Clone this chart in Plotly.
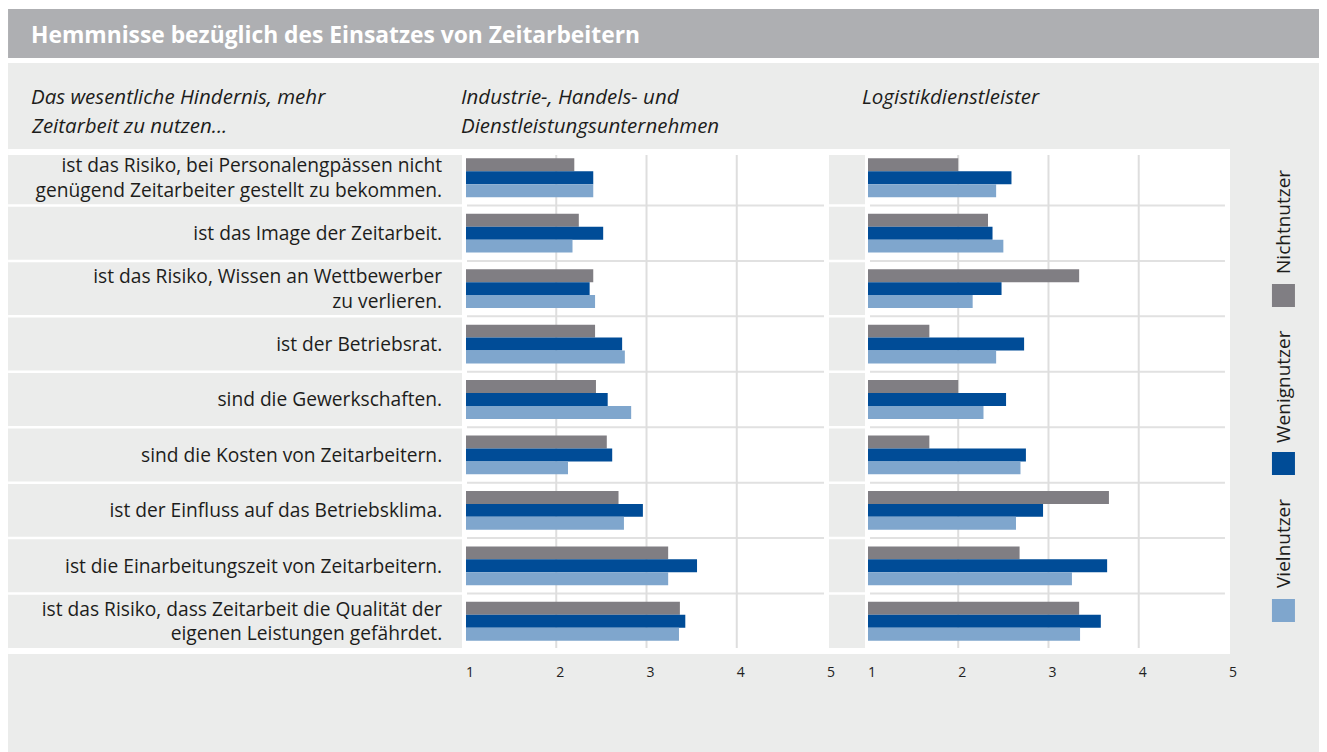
import plotly.graph_objects as go

categories = [
    "ist das Risiko, bei Personalengpässen nicht<br>genügend Zeitarbeiter gestellt zu bekommen.",
    "ist das Image der Zeitarbeit.",
    "ist das Risiko, Wissen an Wettbewerber<br>zu verlieren.",
    "ist der Betriebsrat.",
    "sind die Gewerkschaften.",
    "sind die Kosten von Zeitarbeitern.",
    "ist der Einfluss auf das Betriebsklima.",
    "ist die Einarbeitungszeit von Zeitarbeitern.",
    "ist das Risiko, dass Zeitarbeit die Qualität der<br>eigenen Leistungen gefährdet.",
]

series_names = ["Nichtnutzer", "Wenignutzer", "Vielnutzer"]

# Industrie-, Handels- und Dienstleistungsunternehmen
ind_nicht = [2.20, 2.25, 2.41, 2.43, 2.44, 2.56, 2.69, 3.24, 3.37]
ind_wenig = [2.41, 2.52, 2.37, 2.73, 2.57, 2.62, 2.96, 3.56, 3.43]
ind_viel = [2.41, 2.18, 2.43, 2.76, 2.83, 2.13, 2.75, 3.24, 3.36]

# Logistikdienstleister
log_nicht = [2.00, 2.33, 3.34, 1.68, 2.00, 1.68, 3.67, 2.68, 3.34]
log_wenig = [2.59, 2.38, 2.48, 2.73, 2.53, 2.75, 2.94, 3.65, 3.58]
log_viel = [2.42, 2.50, 2.16, 2.42, 2.28, 2.69, 2.64, 3.26, 3.35]

tick_vals = [1, 2, 3, 4, 5]
grid_vals = [2, 3, 4]

colors = ["#807e83", "#004c97", "#7fa6cd"]
FONT = "Open Sans"
TXT = "#1d1d1b"

# figure size; the page (with 8px body margin) is shrunk horizontally to the window
W, H, OFF = 1319, 744, 8
S = 1327 / (W + 2 * OFF)


def fx(px):
    return (px / S - OFF) / W


def fy(py):
    return 1 - (py - OFF) / H


fig = go.Figure()
for name, col, vals in zip(series_names, colors, [ind_nicht, ind_wenig, ind_viel]):
    fig.add_trace(go.Bar(y=categories, x=vals, orientation="h", name=name,
                         marker=dict(color=col, line=dict(width=0)),
                         xaxis="x", yaxis="y", showlegend=False))
for name, col, vals in zip(series_names, colors, [log_nicht, log_wenig, log_viel]):
    fig.add_trace(go.Bar(y=categories, x=vals, orientation="h", name=name,
                         marker=dict(color=col, line=dict(width=0)),
                         xaxis="x2", yaxis="y2", showlegend=False))

shapes = []


def rect(x0, y0, x1, y1, color):
    shapes.append(dict(type="rect", xref="paper", yref="paper",
                       x0=fx(x0), x1=fx(x1), y0=fy(y0), y1=fy(y1),
                       fillcolor=color, line=dict(width=0), layer="below"))


def hline(x0, x1, y, color, w):
    shapes.append(dict(type="line", xref="paper", yref="paper",
                       x0=fx(x0), x1=fx(x1), y0=fy(y), y1=fy(y),
                       line=dict(color=color, width=w), layer="below"))


# backgrounds
rect(8, 9, 1340, 58, "#aeafb2")
rect(8, 63, 1340, 760, "#ebeceb")
rect(8, 149, 1230, 654, "#ffffff")
rect(8, 155, 462, 648, "#ebeceb")
rect(829, 155, 865, 648, "#ebeceb")

ROW_TOP, ROW_BOT = 150, 649
n = len(categories)
rh = (ROW_BOT - ROW_TOP) / n
for i in range(1, n):
    yb = ROW_TOP + i * rh
    hline(8, 462, yb, "#ffffff", 2.5)
    hline(829, 865, yb, "#ffffff", 2.5)
    hline(467, 824, yb, "#e1e1e1", 2)
    hline(870, 1225, yb, "#e1e1e1", 2)

for xr in ["x", "x2"]:
    for g in grid_vals:
        shapes.append(dict(type="line", xref=xr, yref="paper", x0=g, x1=g,
                           y0=fy(648), y1=fy(155),
                           line=dict(color="#dedede", width=2), layer="below"))

# legend squares
for yc, col in zip([295.5, 463.5, 610.5], colors):
    rect(1272, yc - 11.5, 1295, yc + 11.5, col)

annotations = []


def text(x, y, s, size, color=TXT, xanchor="left", angle=0):
    annotations.append(dict(xref="paper", yref="paper", x=fx(x), y=fy(y),
                            text=s, showarrow=False, xanchor=xanchor,
                            yanchor="middle", textangle=angle,
                            font=dict(family=FONT, size=size, color=color)))


text(29, 35, "<b>Hemmnisse bezüglich des Einsatzes von Zeitarbeitern</b>", 22.8, "#ffffff")
text(29, 96, "<i>Das wesentliche Hindernis, mehr</i>", 20.5)
text(29, 125, "<i>Zeitarbeit zu nutzen...</i>", 20.5)
text(459, 96, "<i>Industrie-, Handels- und</i>", 20.5)
text(459, 125, "<i>Dienstleistungsunternehmen</i>", 20.5)
text(860, 96, "<i>Logistikdienstleister</i>", 20.5)

for yc, name in zip([222, 386, 543], series_names):
    text(1283, yc, name, 19, xanchor="center", angle=-90)

axis_common = dict(range=[1, 5], tickvals=tick_vals, showgrid=False,
                   zeroline=False, showline=False, ticks="outside", ticklen=10,
                   tickcolor="rgba(0,0,0,0)", ticklabelshift=4,
                   tickfont=dict(family=FONT, size=14, color="#222222"),
                   fixedrange=True)

fig.update_layout(
    width=W, height=H,
    margin=dict(l=0, r=0, t=0, b=0),
    paper_bgcolor="#ffffff",
    plot_bgcolor="rgba(0,0,0,0)",
    barmode="group", bargap=0.30, bargroupgap=0,
    font=dict(family=FONT, color=TXT),
    xaxis=dict(domain=[fx(466), fx(827)], anchor="y", **axis_common),
    xaxis2=dict(domain=[fx(868), fx(1229)], anchor="y2", **axis_common),
    yaxis=dict(domain=[fy(ROW_BOT), fy(ROW_TOP)], type="category",
               autorange="reversed", anchor="x", showgrid=False,
               zeroline=False, showline=False, ticks="outside", ticklen=19,
               tickcolor="rgba(0,0,0,0)",
               tickfont=dict(family=FONT, size=19.2, color=TXT),
               fixedrange=True),
    yaxis2=dict(domain=[fy(ROW_BOT), fy(ROW_TOP)], type="category",
                autorange="reversed", anchor="x2", matches="y",
                showgrid=False, zeroline=False, showline=False,
                showticklabels=False, fixedrange=True),
    shapes=shapes,
    annotations=annotations,
)

fig.write_html("out.html", config={"displayModeBar": False})
